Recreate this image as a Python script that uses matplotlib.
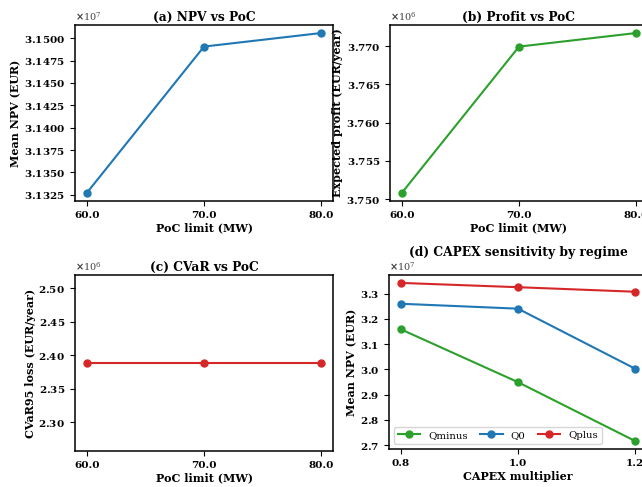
import matplotlib
matplotlib.use("Agg")
import matplotlib.pyplot as plt

# data
poc_limits = [60.0, 70.0, 80.0]
npv_mean = [3.13269e7, 3.14907e7, 3.15059e7]
profit_mean = [3.75079e6, 3.76992e6, 3.77170e6]
cvar95_loss = [2.3887e6, 2.3887e6, 2.3887e6]

capex_mult = [0.8, 1.0, 1.2]
npv_qminus = [3.1586e7, 2.949e7, 2.7157e7]
npv_q0 = [3.2595e7, 3.240e7, 3.002e7]
npv_qplus = [3.342e7, 3.325e7, 3.307e7]

plt.rcParams["font.family"] = "DejaVu Serif"
plt.rcParams["font.weight"] = "bold"
plt.rcParams["axes.labelweight"] = "bold"
plt.rcParams["axes.titleweight"] = "bold"
plt.rcParams["xtick.labelsize"] = 7.5
plt.rcParams["ytick.labelsize"] = 7.5
plt.rcParams["axes.linewidth"] = 1.1

fig = plt.figure(figsize=(6.42, 4.87), dpi=100)
W, H = 642.0, 487.0
ax_a = fig.add_axes([75 / W, 1 - 201 / H, 258 / W, 176 / H])
ax_b = fig.add_axes([390 / W, 1 - 201 / H, 258 / W, 176 / H])
ax_c = fig.add_axes([75 / W, 1 - 451 / H, 258 / W, 176 / H])
ax_d = fig.add_axes([389 / W, 1 - 449 / H, 258 / W, 174 / H])


def style(ax, title, xlabel, ylabel, xticks, fmt):
    ax.set_title(title, fontsize=8.8, pad=3)
    ax.set_xlabel(xlabel, fontsize=8, labelpad=2)
    ax.set_ylabel(ylabel, fontsize=8, labelpad=2)
    ax.set_xticks(xticks)
    ax.set_xticklabels([fmt.format(v) for v in xticks])
    ax.ticklabel_format(axis="y", style="sci", scilimits=(0, 0),
                        useOffset=False, useMathText=True)
    ax.yaxis.get_offset_text().set_fontsize(7)
    ax.yaxis.get_offset_text().set_fontweight("normal")
    ax.yaxis.get_offset_text().set_color("#444444")


ax_a.plot(poc_limits, npv_mean, marker="o", ms=5, lw=1.5, color="tab:blue")
style(ax_a, "(a) NPV vs PoC", "PoC limit (MW)", "Mean NPV (EUR)", poc_limits, "{:.1f}")

ax_b.plot(poc_limits, profit_mean, marker="o", ms=5, lw=1.5, color="tab:green")
style(ax_b, "(b) Profit vs PoC", "PoC limit (MW)", "Expected profit (EUR/year)", poc_limits, "{:.1f}")

ax_c.plot(poc_limits, cvar95_loss, marker="o", ms=5, lw=1.5, color="tab:red")
style(ax_c, "(c) CVaR vs PoC", "PoC limit (MW)", "CVaR95 loss (EUR/year)", poc_limits, "{:.1f}")

ax_d.plot(capex_mult, npv_qminus, marker="o", ms=5, lw=1.5, color="tab:green", label="Qminus")
ax_d.plot(capex_mult, npv_q0, marker="o", ms=5, lw=1.5, color="tab:blue", label="Q0")
ax_d.plot(capex_mult, npv_qplus, marker="o", ms=5, lw=1.5, color="tab:red", label="Qplus")
style(ax_d, "(d) CAPEX sensitivity by regime", "CAPEX multiplier", "Mean NPV (EUR)", capex_mult, "{:.1f}")
ax_d.title.set_position((0.5, 1.06))
ax_d.legend(loc="lower left", ncol=3, prop={"weight": "normal", "size": 7.3},
            handlelength=2.2, columnspacing=1.2, borderpad=0.4)

fig.savefig("out.png", dpi=100)
